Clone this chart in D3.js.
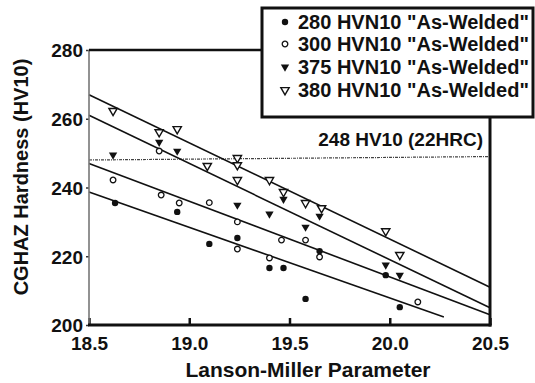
<!DOCTYPE html>
<html>
<head>
<meta charset="utf-8">
<script src="https://cdn.jsdelivr.net/npm/d3@7"></script>
<style>
  body { margin: 0; background: #fff; }
  svg text { font-family: "Liberation Sans", Arial, sans-serif; font-weight: bold; fill: #111; }
</style>
</head>
<body>
<svg id="chart" width="535" height="383"></svg>
<script>
// data: [Lanson-Miller parameter, hardness HV10]
var s280 = [[18.63,235.5],[18.94,232.9],[19.10,223.6],[19.24,225.3],[19.40,216.6],[19.47,216.6],
            [19.58,207.6],[19.65,221.5],[19.98,214.5],[20.05,205.2]];
var s300 = [[18.62,242.2],[18.86,237.8],[18.85,250.6],[18.95,235.5],[19.10,235.6],[19.24,230.0],
            [19.24,222.1],[19.40,219.5],[19.46,224.7],[19.58,224.7],[19.65,219.8],[20.14,206.7]];
var s375 = [[18.62,249.5],[18.85,253.2],[18.94,250.6],[19.24,234.9],[19.40,232.3],[19.47,236.6],
            [19.58,228.5],[19.65,231.7],[19.98,217.5],[20.05,214.5]];
var s380 = [[18.62,262.3],[18.85,256.1],[18.94,257.0],[19.09,246.3],[19.24,248.6],[19.24,246.5],
            [19.24,242.2],[19.40,242.2],[19.47,238.7],[19.58,235.5],[19.66,234.0],[19.98,227.3],[20.05,220.4]];

// regression lines, end points
var fit280 = [[18.5,238.7],[20.27,202.3]];
var fit300 = [[18.5,247.0],[20.5,203.0]];
var fit375 = [[18.5,261.0],[20.5,205.0]];
var fit380 = [[18.5,267.0],[20.5,211.0]];
var limitLine = [[18.5,248],[20.5,249]];

var xTicks = [18.5, 19.0, 19.5, 20.0, 20.5];
var yTicks = [200, 220, 240, 260, 280];
var legendLabels = ['280 HVN10 "As-Welded"', '300 HVN10 "As-Welded"', '375 HVN10 "As-Welded"', '380 HVN10 "As-Welded"'];

var svg = d3.select("#chart");
var plotLeft = 89, plotRight = 490, plotTop = 50, plotBottom = 325;

var x = d3.scaleLinear().domain([18.5, 20.5]).range([plotLeft, plotRight]);
var y = d3.scaleLinear().domain([200, 280]).range([plotBottom, plotTop]);

var line = d3.line().x(function(d){ return x(d[0]); }).y(function(d){ return y(d[1]); });

// 248 HV10 limit
svg.append("path").attr("d", line(limitLine))
    .attr("fill", "none").attr("stroke", "#444").attr("stroke-width", 1.2)
    .attr("stroke-dasharray", "3,1,1,1");
svg.append("text").attr("x", 483).attr("y", 146).attr("text-anchor", "end")
    .style("font-size", "19px").text("248 HV10 (22HRC)");

// fit lines
[fit280, fit300, fit375, fit380].forEach(function(f)
{
    svg.append("path").attr("d", line(f))
        .attr("fill", "none").attr("stroke", "#111").attr("stroke-width", 1.6);
});

var triDown = d3.symbol().type(d3.symbolTriangle).size(30);

function drawMarker(sel, kind)
{
    if(kind == 0)
        sel.append("circle").attr("r", 3.2).attr("fill", "#111");
    else if(kind == 1)
        sel.append("circle").attr("r", 2.8).attr("fill", "#fff").attr("stroke", "#111").attr("stroke-width", 1.3);
    else if(kind == 2)
        sel.append("path").attr("d", triDown).attr("transform", "rotate(180)").attr("fill", "#111");
    else
        sel.append("path").attr("d", triDown).attr("transform", "rotate(180)")
            .attr("fill", "#fff").attr("stroke", "#111").attr("stroke-width", 1.4);
}

[s280, s300, s375, s380].forEach(function(s, i)
{
    svg.append("g").selectAll("g")
        .data(s)
        .enter().append("g")
        .attr("transform", function(d){ return "translate(" + x(d[0]) + "," + y(d[1]) + ")"; })
        .each(function(){ drawMarker(d3.select(this), i); });
});

// axes
var xAxis = svg.append("g").attr("transform", "translate(0," + plotBottom + ")")
    .call(d3.axisBottom(x).tickValues(xTicks).tickFormat(d3.format(".1f")).tickSize(-7).tickPadding(12));
xAxis.select(".domain").remove();
xAxis.selectAll(".tick line").attr("stroke", "#111").attr("stroke-width", 2.5);
xAxis.selectAll(".tick text").style("font-size", "19px").attr("fill", "#111");

var yAxis = svg.append("g").attr("transform", "translate(" + plotLeft + ",0)")
    .call(d3.axisLeft(y).tickValues(yTicks).tickSize(3).tickPadding(3));
yAxis.select(".domain").remove();
yAxis.selectAll(".tick line").attr("stroke", "#333").attr("stroke-width", 1.5);
yAxis.selectAll(".tick text").style("font-size", "19px").attr("fill", "#111").attr("dy", "0.36em");

// frame
svg.append("line").attr("x1", plotLeft).attr("x2", plotLeft).attr("y1", plotTop).attr("y2", plotBottom)
    .attr("stroke", "#777").attr("stroke-width", 1.6);
svg.append("line").attr("x1", plotLeft - 1).attr("x2", plotRight + 1.5).attr("y1", plotBottom).attr("y2", plotBottom)
    .attr("stroke", "#111").attr("stroke-width", 3);
svg.append("line").attr("x1", plotRight).attr("x2", plotRight).attr("y1", 117).attr("y2", plotBottom + 1.5)
    .attr("stroke", "#111").attr("stroke-width", 3);
svg.append("line").attr("x1", plotLeft).attr("x2", 262).attr("y1", plotTop).attr("y2", plotTop)
    .attr("stroke", "#111").attr("stroke-width", 2.5);

// axis titles
svg.append("text").attr("x", 308).attr("y", 377).attr("text-anchor", "middle")
    .style("font-size", "21px").text("Lanson-Miller Parameter");
svg.append("text").attr("transform", "translate(28,177) rotate(-90)").attr("text-anchor", "middle")
    .style("font-size", "20px").text("CGHAZ Hardness (HV10)");

// legend
var legend = svg.append("g");
legend.append("rect").attr("x", 262).attr("y", 8).attr("width", 271).attr("height", 109)
    .attr("fill", "#fff").attr("stroke", "#111").attr("stroke-width", 3);
var rowY = [22, 44, 67, 90];
legendLabels.forEach(function(lab, i)
{
    var m = legend.append("g").attr("transform", "translate(285," + rowY[i] + ")");
    drawMarker(m, i);
    legend.append("text").attr("x", 298).attr("y", rowY[i] + 7)
        .style("font-size", "20px").text(lab);
});
</script>
</body>
</html>
